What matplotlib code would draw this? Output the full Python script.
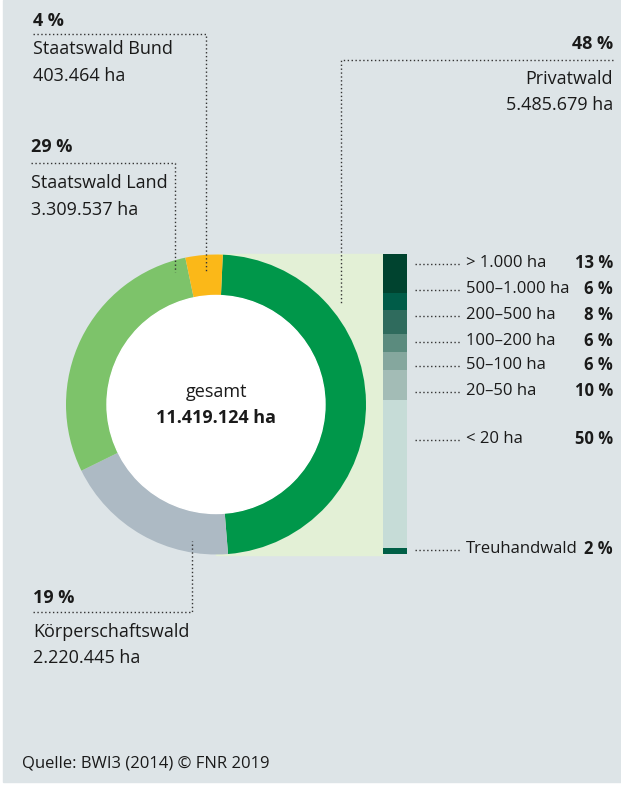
import numpy as np
import matplotlib
matplotlib.use("Agg")
import matplotlib.pyplot as plt
from matplotlib.patches import Rectangle

# ============================================================
# Data
# ============================================================
owners = ["Privatwald", "Körperschaftswald", "Staatswald Land", "Staatswald Bund"]
owner_ha_txt = ["5.485.679 ha", "2.220.445 ha", "3.309.537 ha", "403.464 ha"]
owner_pct = [48, 19, 29, 4]
owner_colors = ["#00974a", "#adbac4", "#7dc36a", "#fbb818"]

total_txt = "11.419.124 ha"

size_classes = ["> 1.000 ha", "500\u20131.000 ha", "200\u2013500 ha", "100\u2013200 ha",
                "50\u2013100 ha", "20\u201350 ha", "< 20 ha", "Treuhandwald"]
size_pct = [13, 6, 8, 6, 6, 10, 50, 2]
size_colors = ["#00432f", "#005c48", "#2f6b5d", "#5b8b7e", "#85a79e", "#a3bcb6", "#c6dcd7", "#005f46"]

# ============================================================
# Figure (pixel coordinates, y measured from top)
# ============================================================
W, H = 621, 787
BG = "#dde4e7"
plt.rcParams["font.family"] = ["Open Sans", "DejaVu Sans"]

fig = plt.figure(figsize=(W / 100, H / 100), dpi=100)
ax = fig.add_axes([0, 0, 1, 1])

def Y(py):
    return H - py

FS = 13
FS2 = 12
TXT = "#1a1a1a"
dot = dict(color="#333333", lw=1.0, linestyle=(0, (1, 1.8)), zorder=3)

# ============================================================
# Donut
# ============================================================
cx, cy, R, ring = 216, 404.5, 150, 41

ax.add_patch(Rectangle((3, Y(782)), W - 3, 782, color=BG, zorder=0))
# light green band behind the Privatwald half
ax.add_patch(Rectangle((cx, Y(555)), 383 - cx, 301, color="#e3f0d6", zorder=1))

ax.pie(owner_pct, colors=owner_colors, startangle=87.4, counterclock=False,
       center=(cx, Y(cy)), radius=R, frame=True,
       wedgeprops=dict(width=ring, linewidth=0, zorder=2))
ax.add_patch(plt.Circle((cx, Y(cy)), R - ring, color="white", zorder=2))
ax.set_xlim(0, W)
ax.set_ylim(0, H)
ax.set_aspect("equal")
ax.axis("off")

ax.text(cx, Y(392), "gesamt", ha="center", va="center", fontsize=FS, color=TXT, zorder=4)
ax.text(cx, Y(418), total_txt, ha="center", va="center", fontsize=FS,
        fontweight="bold", color=TXT, zorder=4)

# ============================================================
# Stacked bar for Privatwald size classes
# ============================================================
bar_x0, bar_w, bar_top, bar_h = 383, 24, 254, 300
scale = bar_h / sum(size_pct)
tops = bar_top + np.concatenate([[0], np.cumsum(size_pct)[:-1]]) * scale
heights = np.array(size_pct) * scale
ax.bar([bar_x0 + bar_w / 2] * len(size_pct), -heights, bottom=Y(tops), width=bar_w,
       color=size_colors, linewidth=0, zorder=2)

label_y = [263, 289, 315, 341, 365, 391, 439, 549]
for lab, p, ly in zip(size_classes, size_pct, label_y):
    ax.plot([415, 460], [Y(ly + 1), Y(ly + 1)], **dot)
    ax.text(466, Y(ly), lab, ha="left", va="center", fontsize=FS2, color=TXT)
    ax.text(613, Y(ly), f"{p} %", ha="right", va="center", fontsize=FS2,
            fontweight="bold", color=TXT)

# ============================================================
# Owner labels with leader lines
# ============================================================
# Staatswald Bund
ax.text(33, Y(21), f"{owner_pct[3]} %", fontsize=FS, fontweight="bold", va="center", color=TXT)
ax.plot([33, 206, 206], [Y(34), Y(34), Y(272)], **dot)
ax.text(33, Y(49), owners[3], fontsize=FS, va="center", color=TXT)
ax.text(33, Y(76), owner_ha_txt[3], fontsize=FS, va="center", color=TXT)

# Staatswald Land
ax.text(31, Y(147), f"{owner_pct[2]} %", fontsize=FS, fontweight="bold", va="center", color=TXT)
ax.plot([31, 175, 175], [Y(163), Y(163), Y(272)], **dot)
ax.text(31, Y(183), owners[2], fontsize=FS, va="center", color=TXT)
ax.text(31, Y(210), owner_ha_txt[2], fontsize=FS, va="center", color=TXT)

# Privatwald
ax.text(613, Y(44), f"{owner_pct[0]} %", fontsize=FS, fontweight="bold", ha="right", va="center", color=TXT)
ax.plot([613, 341, 341], [Y(60), Y(60), Y(303)], **dot)
ax.text(613, Y(79), owners[0], fontsize=FS, ha="right", va="center", color=TXT)
ax.text(613, Y(105), owner_ha_txt[0], fontsize=FS, ha="right", va="center", color=TXT)

# Körperschaftswald
ax.text(33, Y(598), f"{owner_pct[1]} %", fontsize=FS, fontweight="bold", va="center", color=TXT)
ax.plot([33, 192, 192], [Y(612), Y(612), Y(541)], **dot)
ax.text(33, Y(632), owners[1], fontsize=FS, va="center", color=TXT)
ax.text(33, Y(658), owner_ha_txt[1], fontsize=FS, va="center", color=TXT)

ax.text(22, Y(763), "Quelle: BWI3 (2014) \u00a9 FNR 2019", fontsize=FS2, va="center", color=TXT)

fig.savefig("out.png", dpi=100, facecolor="white")
